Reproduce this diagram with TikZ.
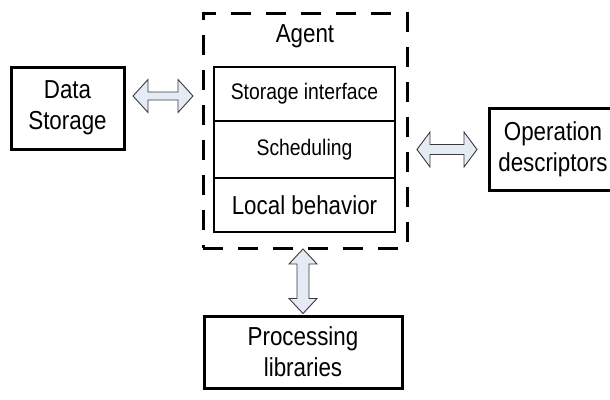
\documentclass[tikz,border=0pt]{standalone}
\usepackage{fontspec}
\setmainfont{Liberation Sans}[FakeStretch=0.86]
\usetikzlibrary{calc}
\definecolor{arrowfill}{HTML}{E4EBF5}
\definecolor{arrowline}{HTML}{3A3A3A}
\tikzset{
  box/.style={draw, line width=3pt, minimum width=#1, align=center, inner sep=0pt},
  cell/.style={draw, line width=2.4pt, minimum width=181pt, align=center, inner sep=0pt},
  agentbox/.style={draw, line width=3pt, dash pattern=on 20pt off 15pt, inner sep=0pt},
  blockarrow/.style={draw=arrowline, fill=arrowfill, line width=0.9pt, line join=miter},
  bigtext/.style={font=\fontsize{26}{31}\selectfont},
  smalltext/.style={font=\fontsize{22.5}{27}\selectfont},
}
\newcommand\harrow[5]{% from #1 to #2, head half #3, shaft half #4, head length #5
  \draw[blockarrow] (#1) -- ($(#1)+(#5,-#3)$) -- ($(#1)+(#5,-#4)$) -- ($(#2)+(-#5,-#4)$) -- ($(#2)+(-#5,-#3)$) -- (#2)
    -- ($(#2)+(-#5,#3)$) -- ($(#2)+(-#5,#4)$) -- ($(#1)+(#5,#4)$) -- ($(#1)+(#5,#3)$) -- cycle;}
\newcommand\varrow[5]{%
  \draw[blockarrow] (#1) -- ($(#1)+(-#3,#5)$) -- ($(#1)+(-#4,#5)$) -- ($(#2)+(-#4,-#5)$) -- ($(#2)+(-#3,-#5)$) -- (#2)
    -- ($(#2)+(#3,-#5)$) -- ($(#2)+(#4,-#5)$) -- ($(#1)+(#4,#5)$) -- ($(#1)+(#3,#5)$) -- cycle;}
\begin{document}
\begin{tikzpicture}[x=1pt,y=-1pt]
\useasboundingbox (0,0) rectangle (610,399);
% Agent container
\node[agentbox, minimum width=204pt, minimum height=235pt] (agent) at (305,130.5) {};
\node[bigtext, inner sep=0pt] (agentlabel) at (305,36) {Agent};
% inner stack
\node[cell, minimum height=54pt, smalltext] (si) at (304.5,94) {Storage interface};
\node[cell, minimum height=57pt, smalltext] (sch) at (304.5,149.5) {Scheduling};
\node[cell, minimum height=54pt, bigtext] (lb) at (304.5,205) {Local behavior};
% outer boxes
\node[box=113pt, minimum height=82pt, bigtext] (ds) at (67.5,108) {Data\\Storage};
\node[box=127pt, minimum height=82pt, bigtext] (op) at (553,149.5) {Operation\\descriptors};
\node[box=198pt, minimum height=72pt, bigtext] (pl) at (303,352) {Processing\\libraries};
% arrow ends
\coordinate (la1) at (133,96);
\coordinate (la2) at (193,96);
\coordinate (ra1) at (417,149.5);
\coordinate (ra2) at (477,149.5);
\coordinate (va1) at (303,249);
\coordinate (va2) at (303,313.5);
\harrow{la1}{la2}{16.5}{4}{15}
\harrow{ra1}{ra2}{17.5}{5}{13}
\varrow{va1}{va2}{14}{6}{15}
\end{tikzpicture}
\end{document}
